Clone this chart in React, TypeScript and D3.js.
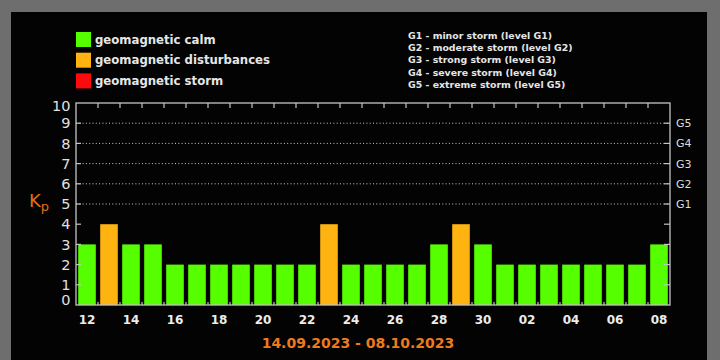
import React from "react";
import * as d3 from "d3";

const days = ["12","13","14","15","16","17","18","19","20","21","22","23","24","25","26","27","28","29","30","01","02","03","04","05","06","07","08"];
const kpValues = [3,4,3,3,2,2,2,2,2,2,2,4,2,2,2,2,3,4,3,2,2,2,2,2,2,2,3];
const yTicks = [0,1,2,3,4,5,6,7,8,9,10];
const gLevels = [
  { level: 5, label: "G1" },
  { level: 6, label: "G2" },
  { level: 7, label: "G3" },
  { level: 8, label: "G4" },
  { level: 9, label: "G5" },
];
const legendLeft = [
  { label: "geomagnetic calm", color: "#55ff00" },
  { label: "geomagnetic disturbances", color: "#ffb311" },
  { label: "geomagnetic storm", color: "#ff0a0a" },
];
const legendRight = [
  "G1 - minor storm (level G1)",
  "G2 - moderate storm (level G2)",
  "G3 - strong storm (level G3)",
  "G4 - severe storm (level G4)",
  "G5 - extreme storm (level G5)",
];
const dateRange = "14.09.2023 - 08.10.2023";

function barColor(v: number) {
  if (v >= 5) return "#ff0a0a";
  if (v >= 4) return "#ffb311";
  return "#55ff00";
}

export default function App() {
  const W = 720, H = 360;
  const left = 76, right = 670, top = 103, bottom = 305;
  const x = d3.scaleBand<string>().domain(days.map((d, i) => i + "")).range([left, right]).paddingInner(0.2).paddingOuter(0.1);
  const y = d3.scaleLinear().domain([0, 10]).range([bottom, top]);
  const frame = "#c4c4c4";
  const font = "'DejaVu Sans', Verdana, sans-serif";
  const boundaries = d3.range(1, days.length).map((i) => left + (right - left) * i / days.length);

  return (
    <svg width={W} height={H} style={{ position: "fixed", left: 0, top: 0 }} fontFamily={font}>
      <rect x={0} y={0} width={W} height={H} fill="#6e6e6e" />
      <rect x={11} y={12} width={696} height={H - 12} fill="#030303" />

      {legendLeft.map((d, i) => (
        <g key={d.label} transform={`translate(76,${32 + i * 20.7})`}>
          <rect width={15} height={15} fill={d.color} />
          <text x={19} y={7.5} dy="0.35em" fill="#e6e6e6" fontSize={11.7} fontWeight="bold">{d.label}</text>
        </g>
      ))}
      {legendRight.map((t, i) => (
        <text key={t} x={408} y={36 + i * 12.1} dy="0.35em" fill="#e6e6e6" fontSize={9.4} fontWeight="bold">{t}</text>
      ))}

      {gLevels.map((g) => (
        <line key={g.label} x1={left} x2={right} y1={y(g.level)} y2={y(g.level)} stroke="#d0d0d0" strokeWidth={1} strokeDasharray="1,2.3" />
      ))}

      {kpValues.map((v, i) => (
        <rect key={i} x={x(i + "")} y={y(v)} width={x.bandwidth()} height={y(0) - y(v)} fill={barColor(v)} />
      ))}

      <rect x={left} y={top} width={right - left} height={bottom - top} fill="none" stroke={frame} strokeWidth={1.3} />
      {boundaries.map((bx, i) => (
        <g key={i}>
          <line x1={bx} x2={bx} y1={top} y2={top + 5} stroke={frame} strokeWidth={1.2} />
          <line x1={bx} x2={bx} y1={bottom} y2={bottom - 3} stroke={frame} strokeWidth={1.2} />
        </g>
      ))}
      {yTicks.slice(1, 10).map((t) => (
        <g key={t}>
          <line x1={left} x2={left + 5} y1={y(t)} y2={y(t)} stroke={frame} strokeWidth={1.2} />
          <line x1={right - 6} x2={right} y1={y(t)} y2={y(t)} stroke={frame} strokeWidth={1.2} />
        </g>
      ))}

      {yTicks.map((t) => {
        let yy = y(t);
        if (t === 0) yy -= 5.5;
        if (t === 10) yy += 2.5;
        return (
          <text key={t} x={70.5} y={yy} dy="0.36em" textAnchor="end" fill="#e0e0e0" fontSize={14.5}>{t}</text>
        );
      })}
      {gLevels.map((g) => (
        <text key={g.label} x={676} y={y(g.level)} dy="0.36em" fill="#dcdcdc" fontSize={11}>{g.label}</text>
      ))}

      <text x={29} y={207} fill="#e0701a" fontSize={18}>K<tspan fontSize={13} dy={4}>p</tspan></text>

      {days.map((d, i) => i % 2 === 0 ? (
        <text key={i} x={(x(i + "") as number) + x.bandwidth() / 2} y={320} dy="0.36em" textAnchor="middle" fill="#ececec" fontSize={12} fontWeight="bold">{d}</text>
      ) : null)}

      <text x={358} y={343} dy="0.36em" textAnchor="middle" fill="#ee7a1c" fontSize={14} fontWeight="bold">{dateRange}</text>
    </svg>
  );
}
